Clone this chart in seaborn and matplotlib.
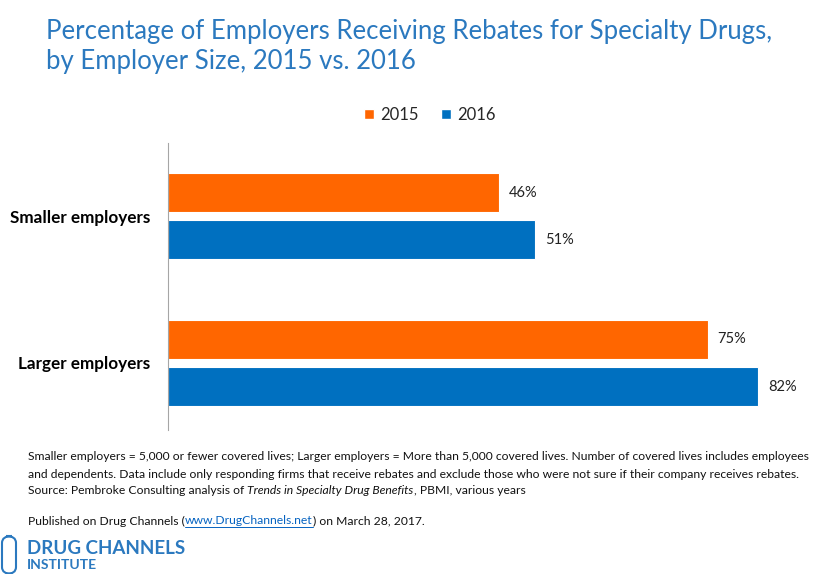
import matplotlib
matplotlib.use("Agg")
import matplotlib.pyplot as plt
import seaborn as sns
import pandas as pd
from matplotlib.patches import FancyBboxPatch, Patch

categories = ["Smaller employers", "Larger employers"]
years = ["2015", "2016"]
values_2015 = [46, 75]
values_2016 = [51, 82]
colors = ["#FF6600", "#0070C0"]

df = pd.DataFrame({
    "category": categories * 2,
    "year": [years[0]] * 2 + [years[1]] * 2,
    "value": values_2015 + values_2016,
})

sns.set_theme(style="white")
plt.rcParams["font.family"] = ["Lato", "DejaVu Sans"]

W, H = 830, 574
fig = plt.figure(figsize=(W / 100, H / 100), dpi=100)
ax = fig.add_axes([168 / W, 1 - 430 / H, (816 - 168) / W, (430 - 143) / H])

sns.barplot(data=df, y="category", x="value", hue="year", orient="h",
            palette=colors, saturation=1, width=0.64, gap=0.17, ax=ax, legend=False,
            edgecolor="white", linewidth=0.8)

ax.set_xlim(0, 90)
ax.set_ylim(1.456, -0.497)
ax.set_xlabel("")
ax.set_ylabel("")
ax.set_xticks([])
for s in ["top", "right", "bottom"]:
    ax.spines[s].set_visible(False)
ax.spines["left"].set_color("#A6A6A6")
ax.spines["left"].set_linewidth(0.8)
ax.tick_params(axis="y", length=0, pad=13)
for lbl in ax.get_yticklabels():
    lbl.set_fontsize(12.3)
    lbl.set_fontweight("bold")
    lbl.set_color("#000000")

for cont in ax.containers:
    ax.bar_label(cont, labels=[f"{v:.0f}%" for v in cont.datavalues],
                 padding=7, fontsize=10.5, color="#222222")

blue_t = "#2B79BF"
fig.text(46 / W, 1 - 32 / H, "Percentage of Employers Receiving Rebates for Specialty Drugs,",
         fontsize=18.5, color=blue_t, va="center", ha="left")
fig.text(46 / W, 1 - 62 / H, "by Employer Size, 2015 vs. 2016",
         fontsize=18.5, color=blue_t, va="center", ha="left")

handles = [Patch(facecolor=c, label=y) for c, y in zip(colors, years)]
fig.legend(handles=handles, loc="center", bbox_to_anchor=(430 / W, 1 - 115 / H),
           ncol=2, frameon=False, fontsize=12, handlelength=0.6, handleheight=0.6,
           handletextpad=0.4, columnspacing=1.3)

fs = 8.78
tc = "#111111"
fig.text(28 / W, 1 - 457 / H,
         "Smaller employers = 5,000 or fewer covered lives; Larger employers = More than 5,000 covered lives. Number of covered lives includes employees",
         fontsize=fs, va="center", ha="left", color=tc)
fig.text(28 / W, 1 - 475 / H,
         "and dependents. Data include only responding firms that receive rebates and exclude those who were not sure if their company receives rebates.",
         fontsize=fs, va="center", ha="left", color=tc)

fig.canvas.draw()
r = fig.canvas.get_renderer()


def chain(x_px, y_px, pieces):
    x = x_px
    arts = []
    for txt, kw in pieces:
        t = fig.text(x / W, 1 - y_px / H, txt, fontsize=fs, va="center", ha="left", **kw)
        bb = t.get_window_extent(r)
        arts.append((t, bb))
        x = bb.x1
    return arts


chain(28, 491, [("Source: Pembroke Consulting analysis of ", dict(color=tc)),
                ("Trends in Specialty Drug Benefits", dict(color=tc, style="italic")),
                (", PBMI, various years", dict(color=tc))])
arts = chain(28, 521, [("Published on Drug Channels (", dict(color=tc)),
                       ("www.DrugChannels.net", dict(color="#0563C1")),
                       (") on March 28, 2017.", dict(color=tc))])
bb2 = arts[1][1]
fig.add_artist(plt.Line2D([bb2.x0 / W, bb2.x1 / W], [1 - 527 / H, 1 - 527 / H], color="#0563C1", lw=0.7,
                          transform=fig.transFigure))

logo_c = "#2B79BF"
fig.text(27 / W, 1 - 548 / H, "DRUG CHANNELS", fontsize=13.5, fontweight="bold", color=logo_c,
         va="center", ha="left")
fig.text(27 / W, 1 - 565 / H, "INSTITUTE", fontsize=10, fontweight="bold", color=logo_c,
         va="center", ha="left")
cap = FancyBboxPatch((2 / W, 1 - 574 / H), 14 / W, 38 / H, boxstyle="round,pad=0,rounding_size=0.012",
                     transform=fig.transFigure, facecolor="white", edgecolor=logo_c, lw=1.5)
fig.add_artist(cap)

fig.savefig("out.png", dpi=100, facecolor="white")
